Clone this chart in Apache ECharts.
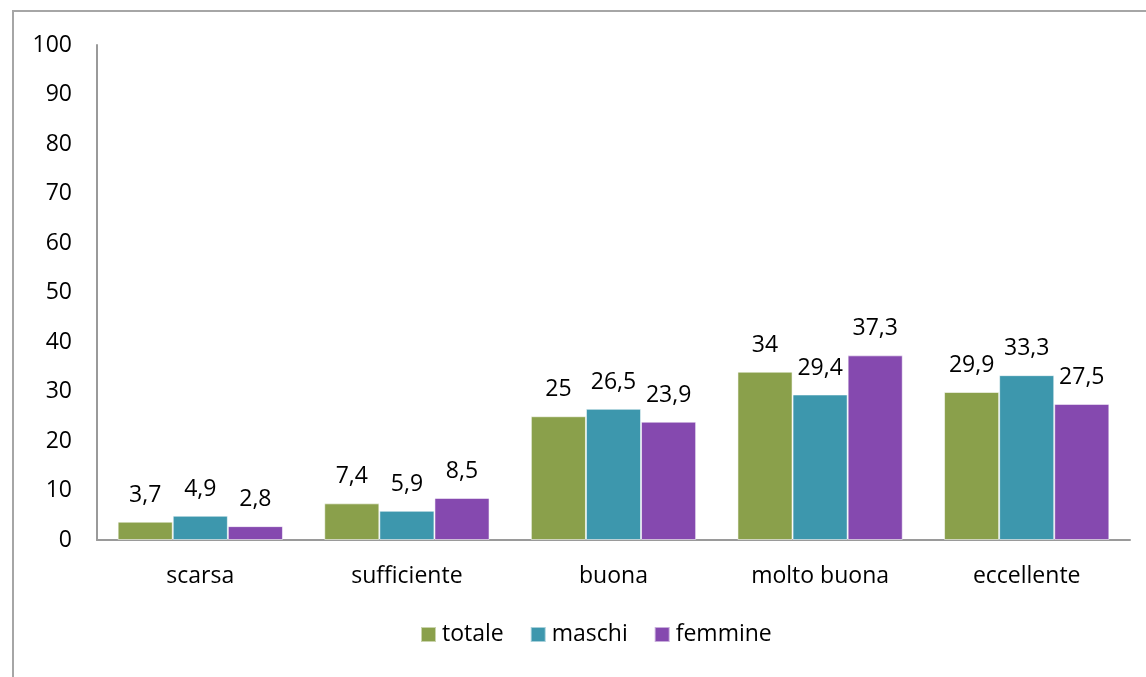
<!DOCTYPE html>
<html>
<head>
<meta charset="utf-8">
<script src="https://cdn.jsdelivr.net/npm/echarts@6/dist/echarts.min.js"></script>
<style>
  html, body { margin: 0; padding: 0; background: #fff; }
  #chart { width: 1146px; height: 677px; }
</style>
</head>
<body>
<div id="chart"></div>
<script>
// Valutazione per genere (%)
const categories = ['scarsa', 'sufficiente', 'buona', 'molto buona', 'eccellente'];
const totale  = [3.7, 7.4, 25, 34, 29.9];
const maschi  = [4.9, 5.9, 26.5, 29.4, 33.3];
const femmine = [2.8, 8.5, 23.9, 37.3, 27.5];
const seriesNames = ['totale', 'maschi', 'femmine'];
const colors = ['#8AA04B', '#3D97AD', '#8549AF'];

const font = '"Open Sans", "Noto Sans", sans-serif';
const fontSize = 23;
const fmt = v => String(v).replace('.', ',');

const chart = echarts.init(document.getElementById('chart'), null, { renderer: 'canvas' });

function bar(name, data, color) {
  return {
    name: name,
    type: 'bar',
    data: data,
    barGap: '0%',
    barCategoryGap: '20%',
    itemStyle: { color: color, borderColor: 'rgba(255,255,255,0.55)', borderWidth: 1 },
    label: {
      show: true,
      position: 'top',
      distance: 15,
      color: '#000',
      fontSize: fontSize,
      fontFamily: font,
      formatter: p => fmt(p.value)
    }
  };
}

chart.setOption({
  animation: false,
  color: colors,
  graphic: [{
    type: 'rect',
    shape: { x: 13, y: 11, width: 1300, height: 900 },
    style: { fill: 'none', stroke: '#a6a6a6', lineWidth: 2 },
    silent: true
  }],
  grid: { left: 97, right: 16, top: 45, bottom: 137, containLabel: false },
  legend: {
    bottom: 31,
    left: 420,
    padding: 0,
    itemWidth: 15,
    itemHeight: 15,
    itemGap: 26,
    icon: 'rect',
    data: seriesNames,
    textStyle: { color: '#000', fontSize: fontSize, fontFamily: font, padding: [0, 0, 0, 1] }
  },
  xAxis: {
    type: 'category',
    data: categories,
    axisLine: { lineStyle: { color: '#9a9a9a', width: 2 } },
    axisTick: { show: false },
    axisLabel: { color: '#000', fontSize: fontSize, fontFamily: font, margin: 25 }
  },
  yAxis: {
    type: 'value',
    min: 0,
    max: 100,
    interval: 10,
    splitLine: { show: false },
    axisLine: { show: true, lineStyle: { color: '#9a9a9a', width: 2 } },
    axisTick: { show: false },
    axisLabel: { color: '#000', fontSize: fontSize, fontFamily: font, margin: 25 }
  },
  series: [
    bar(seriesNames[0], totale, colors[0]),
    bar(seriesNames[1], maschi, colors[1]),
    bar(seriesNames[2], femmine, colors[2])
  ]
});
</script>
</body>
</html>
